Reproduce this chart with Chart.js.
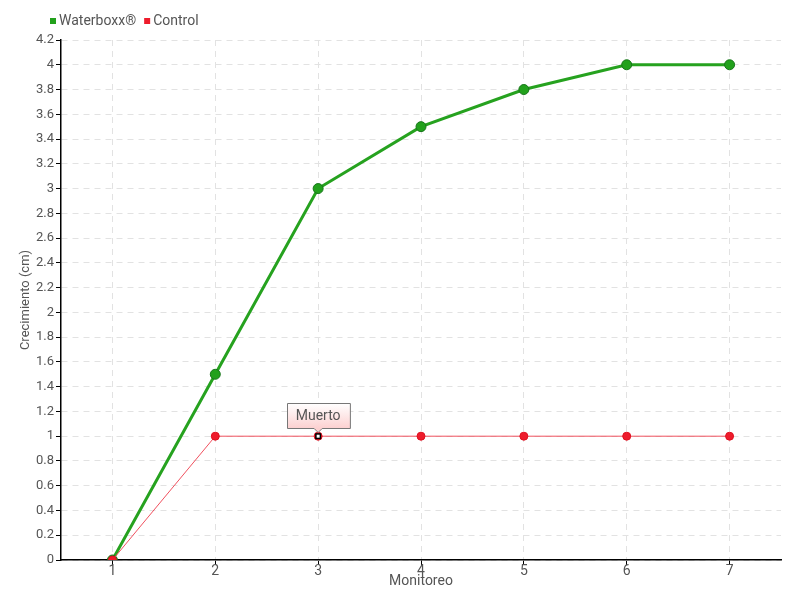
<!DOCTYPE html>
<html>
<head>
<meta charset="utf-8">
<script src="https://cdn.jsdelivr.net/npm/chart.js@4"></script>
<style>
  html, body { margin: 0; padding: 0; background: #fff; }
  #wrap { width: 800px; height: 600px; }
</style>
</head>
<body>
<div id="wrap"><canvas id="chart" width="800" height="600"></canvas></div>
<script>
const monitoreo = ['1', '2', '3', '4', '5', '6', '7'];
const waterboxx = [0, 1.5, 3, 3.5, 3.8, 4, 4];
const control = [0, 1, 1, 1, 1, 1, 1];
const controlNotes = ['', '', 'Muerto', '', '', '', ''];

const FONT = 'Roboto, "Liberation Sans", sans-serif';

// small legend at the top left and the callout box above annotated points
const extrasPlugin = {
  id: 'extras',
  afterDraw(chart) {
    const ctx = chart.ctx;
    ctx.save();
    ctx.font = '14px ' + FONT;
    ctx.textBaseline = 'middle';
    let x = 50;
    chart.data.datasets.forEach(ds => {
      ctx.fillStyle = ds.backgroundColor;
      ctx.fillRect(x, 18, 6, 6);
      ctx.fillStyle = '#555';
      ctx.textAlign = 'left';
      ctx.fillText(ds.label, x + 9, 21);
      x += 9 + ctx.measureText(ds.label).width + 8;
    });

    const meta = chart.getDatasetMeta(1);
    controlNotes.forEach((txt, i) => {
      if (!txt) return;
      const pt = meta.data[i];
      const w = ctx.measureText(txt).width + 18;
      const h = 25;
      const x0 = Math.round(pt.x - w / 2) + 0.5, y0 = Math.round(pt.y - 33) + 0.5;
      const g = ctx.createLinearGradient(0, y0, 0, y0 + h);
      g.addColorStop(0, '#ffffff');
      g.addColorStop(1, '#fcd0d0');
      ctx.beginPath();
      ctx.moveTo(x0, y0);
      ctx.lineTo(x0 + w, y0);
      ctx.lineTo(x0 + w, y0 + h);
      ctx.lineTo(pt.x + 4, y0 + h);
      ctx.lineTo(pt.x, y0 + h + 4);
      ctx.lineTo(pt.x - 4, y0 + h);
      ctx.lineTo(x0, y0 + h);
      ctx.closePath();
      ctx.fillStyle = g;
      ctx.fill();
      ctx.strokeStyle = '#777';
      ctx.lineWidth = 1;
      ctx.stroke();
      ctx.fillStyle = '#555';
      ctx.textAlign = 'center';
      ctx.fillText(txt, pt.x, y0 + h / 2);
      ctx.fillStyle = '#000';
      ctx.fillRect(pt.x - 3, pt.y - 3, 6, 6);
      ctx.fillStyle = '#fff';
      ctx.fillRect(pt.x - 1.5, pt.y - 1.5, 3, 3);
    });
    ctx.restore();
  }
};

new Chart(document.getElementById('chart').getContext('2d'), {
  type: 'line',
  data: {
    labels: monitoreo,
    datasets: [{
      label: 'Waterboxx®',
      data: waterboxx,
      borderColor: '#26a21f',
      backgroundColor: '#22a11c',
      borderWidth: 3,
      pointRadius: 5,
      pointBackgroundColor: '#22a11c',
      pointBorderColor: '#17751a',
      pointBorderWidth: 1,
      tension: 0,
      order: 1
    }, {
      label: 'Control',
      data: control,
      borderColor: '#f0505e',
      backgroundColor: '#ee1c2c',
      borderWidth: 1,
      pointRadius: 4,
      pointBackgroundColor: '#ee1c2c',
      pointBorderColor: '#e01020',
      pointBorderWidth: 1,
      tension: 0,
      order: 0
    }]
  },
  options: {
    responsive: false,
    animation: false,
    layout: { padding: { left: 0, right: 19, top: 40, bottom: 0 } },
    plugins: {
      tooltip: { enabled: false },
      legend: { display: false }
    },
    scales: {
      x: {
        offset: true,
        border: { color: '#000', width: 1.5, dash: [6, 5] },
        grid: {
          offset: false,
          color: '#e2e2e2',
          tickColor: '#000',
          tickLength: 5,
          tickBorderDash: []
        },
        ticks: { color: '#555', padding: -2, font: { family: FONT, size: 14 } },
        title: {
          display: true, text: 'Monitoreo', color: '#555', padding: { top: 0, bottom: 10 },
          font: { family: FONT, size: 14 }
        },
        afterFit(s) { s.height = 40; }
      },
      y: {
        min: 0,
        max: 4.2,
        border: { color: '#000', width: 1.5, dash: [6, 5] },
        grid: {
          color: '#e2e2e2',
          tickColor: '#000',
          tickLength: 5,
          tickBorderDash: []
        },
        ticks: {
          stepSize: 0.2,
          color: '#555',
          padding: 2,
          font: { family: FONT, size: 13 },
          callback: v => String(Math.round(v * 10) / 10)
        },
        title: {
          display: true, text: 'Crecimiento (cm)', color: '#555', padding: { top: 18, bottom: 0 },
          font: { family: FONT, size: 13 }
        },
        afterFit(s) { s.width = 61; }
      }
    }
  },
  plugins: [extrasPlugin]
});
</script>
</body>
</html>
